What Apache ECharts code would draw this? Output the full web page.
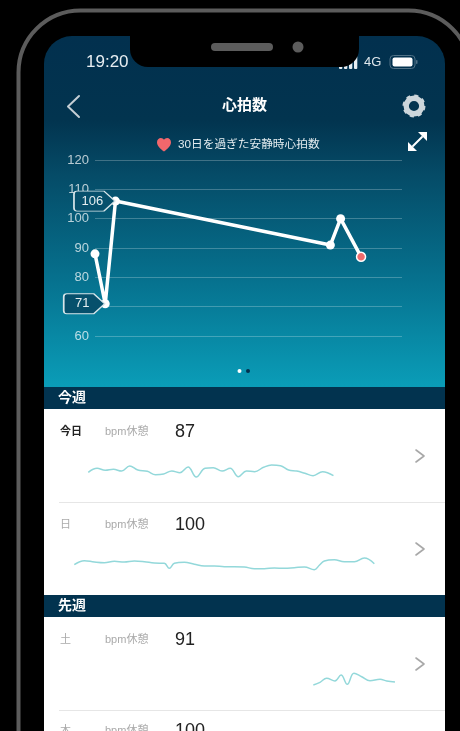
<!DOCTYPE html>
<html>
<head>
<meta charset="utf-8">
<style>
  html, body { margin: 0; padding: 0; background: #000; }
  #main { width: 460px; height: 731px; }
</style>
<script src="https://cdn.jsdelivr.net/npm/echarts@6/dist/echarts.min.js"></script>
</head>
<body>
<div id="main"></div>
<script>
// 30日間の安静時心拍数
var restDays = [0, 1, 2, 23, 24, 26];
var restValues = [88, 71, 106, 91, 100, 87];
var tagIndexes = [1, 2];

// 一覧の行
var rowLabels = ['今日', '日', '土', '木'];
var rowValues = ['87', '100', '91', '100'];
var sectionLabels = ['今週', '先週'];

// 一日の推移 (時刻, bpm)
var todayHours = [1.05, 1.7, 2.3, 2.9, 3.5, 4.1, 4.7, 5.4, 6, 6.6, 7.2, 7.8, 8.4, 9, 9.65, 10.25, 10.9, 11.5, 12.1, 12.7, 13.3, 13.95, 14.55, 15.2, 15.8, 16.4, 17, 17.6, 18.3, 19.1];
var todayBpm = [86.7, 90.7, 88.7, 89.7, 88, 93, 89, 87.7, 84.3, 85, 88, 86.3, 92, 82, 90.7, 91.3, 88, 90.7, 82.3, 88, 87.3, 91.7, 94, 93.3, 89, 88, 85.7, 83.3, 87.3, 83.3];
var sunHours = [0.02, 0.76, 1.5, 2.23, 2.97, 3.7, 4.44, 5.18, 5.91, 6.65, 7.02, 7.39, 8.12, 8.86, 9.6, 10.33, 11.07, 11.8, 12.54, 13.28, 14.01, 14.75, 15.48, 16.22, 16.96, 17.69, 18.06, 18.43, 19.17, 19.9, 20.64, 21.37, 22.11];
var sunBpm = [95.3, 99.3, 98, 97.3, 98.7, 98, 99, 98.3, 97, 96.7, 91.7, 96.7, 97.7, 95.7, 94, 94, 93.3, 93.3, 93, 91.3, 91.3, 92, 91.7, 92.3, 93, 90.3, 94.7, 99, 100.3, 98.3, 98.3, 102, 96.3];
var satHours = [17.62, 18.11, 18.6, 19.21, 19.66, 20.12, 20.61, 21.18, 21.79, 22.53, 23.02, 23.63];
var satBpm = [90, 92.7, 96.7, 94, 100, 90.7, 101.7, 98.3, 94.3, 95.7, 94, 93];

var legendName = '30日を過ぎた安静時心拍数';
var fontFamily = '"Liberation Sans", "Noto Sans CJK JP", sans-serif';
var heartPath = 'path://M7 13.5C3 10.4 0 7.8 0 4.2 0 1.7 1.8 0 3.9 0 5.2 0 6.3 .7 7 1.8 7.7 .7 8.8 0 10.1 0 12.2 0 14 1.7 14 4.2 14 7.8 11 10.4 7 13.5Z';
var tagPath = 'path://M3 0H30L41 10 30 20H3C1.3 20 0 18.7 0 17V3C0 1.3 1.3 0 3 0Z';

function zip(xs, ys) {
    return xs.map(function (x, i) { return [x, ys[i]]; });
}

function text(x, y, str, size, color, weight, align) {
    return {
        type: 'text', z: -1, x: x, y: y,
        style: {
            text: str, fontSize: size, fill: color, fontWeight: weight || 'normal',
            fontFamily: fontFamily, align: align || 'left', verticalAlign: 'middle'
        }
    };
}

function rect(x, y, w, h, fill, r) {
    return { type: 'rect', z: -1, shape: { x: x, y: y, width: w, height: h, r: r || 0 }, style: { fill: fill } };
}

function chevron(points, color, width) {
    return {
        type: 'polyline', z: -1, shape: { points: points },
        style: { stroke: color, lineWidth: width, fill: 'none', lineCap: 'round', lineJoin: 'round' }
    };
}

// 端末と画面の部品
var chrome = [
    { type: 'rect', z: -1, shape: { x: 18.5, y: 10.5, width: 452, height: 900, r: 62 }, style: { fill: '#000', stroke: '#5c5c5c', lineWidth: 4 } },
    {
        type: 'rect', z: -1, shape: { x: 44, y: 36, width: 401, height: 351, r: [28, 28, 0, 0] },
        style: {
            fill: new echarts.graphic.LinearGradient(0, 0, 0, 1, [
                { offset: 0, color: '#02304e' },
                { offset: 0.24, color: '#02344f' },
                { offset: 0.4, color: '#054c68' },
                { offset: 0.7, color: '#06728f' },
                { offset: 1, color: '#0a9db8' }
            ])
        }
    }
];

// 電波
[[339, 66], [344, 63], [349, 60], [354, 56]].forEach(function (b) {
    chrome.push(rect(b[0], b[1], 3.3, 69 - b[1], '#e8eef2', 1));
});

chrome.push(
    rect(130, 30, 229, 37, '#000', [0, 0, 18, 18]),
    rect(211, 43, 62, 8, '#5c5c5c', 4),
    { type: 'circle', z: -1, shape: { cx: 298, cy: 47, r: 5.5 }, style: { fill: '#5c5c5c' } },
    text(86, 62, '19:20', 17, '#e8eef2', '500'),
    text(364, 62, '4G', 13, '#dfe7ec'),
    { type: 'rect', z: -1, shape: { x: 390, y: 55.5, width: 25, height: 13, r: 3.5 }, style: { fill: 'none', stroke: '#4f7186', lineWidth: 1 } },
    rect(392.5, 57.5, 20, 9, '#fff', 2),
    rect(416, 60, 1.5, 4, '#4f7186', 1),
    chevron([[79, 96], [68, 106.5], [79, 117]], '#c4ced4', 2),
    text(244.5, 106, '心拍数', 15, '#fff', 'bold', 'center'),
    // 歯車
    { type: 'circle', z: -1, shape: { cx: 414, cy: 106, r: 7.8 }, style: { fill: 'none', stroke: '#cdd6db', lineWidth: 5.4 } },
    { type: 'circle', z: -1, shape: { cx: 414, cy: 106, r: 10.2 }, style: { fill: 'none', stroke: '#cdd6db', lineWidth: 2.6, lineDash: [4, 4] } },
    // 拡大
    chevron([[413, 146], [422, 137]], '#fff', 2),
    { type: 'polygon', z: -1, shape: { points: [[418, 132], [427, 132], [427, 141]] }, style: { fill: '#fff' } },
    { type: 'polygon', z: -1, shape: { points: [[408, 142], [408, 151], [417, 151]] }, style: { fill: '#fff' } },
    // ページ
    { type: 'circle', z: -1, shape: { cx: 239.5, cy: 371, r: 2 }, style: { fill: '#fff' } },
    { type: 'circle', z: -1, shape: { cx: 248, cy: 371, r: 2 }, style: { fill: '#03304d' } },
    // 一覧
    rect(44, 409, 401, 330, '#fff'),
    rect(44, 387, 401, 22, '#02334f'),
    rect(44, 595, 401, 22, '#02334f'),
    rect(59, 502, 386, 1, '#e6e6e6'),
    rect(59, 710, 386, 1, '#e6e6e6'),
    text(58, 398, sectionLabels[0], 14, '#fff', 'bold'),
    text(58, 606, sectionLabels[1], 14, '#fff', 'bold')
);

var rowTextY = [432, 525, 640, 731];
rowLabels.forEach(function (label, i) {
    var y = rowTextY[i];
    chrome.push(
        text(60, y, label, 11, i === 0 ? '#222' : '#aaa', i === 0 ? 'bold' : 'normal'),
        text(105, y, 'bpm休憩', 11, '#aaa'),
        text(175, y, rowValues[i], 18, '#222')
    );
});

[456, 549, 664].forEach(function (y) {
    chrome.push(chevron([[416, y - 6], [424, y], [416, y + 6]], '#a8a8a8', 1.6));
});

function sparkSeries(gridIndex, data) {
    return {
        type: 'line', xAxisIndex: gridIndex, yAxisIndex: gridIndex, data: data,
        smooth: 0.4, showSymbol: false, silent: true, z: 2,
        lineStyle: { color: '#93d8da', width: 1.5 }
    };
}

function hiddenX(gridIndex) {
    return { type: 'value', gridIndex: gridIndex, min: 0, max: 24, show: false };
}

function hiddenY(gridIndex, min, max) {
    return { type: 'value', gridIndex: gridIndex, min: min, max: max, show: false };
}

var chart = echarts.init(document.getElementById('main'));

chart.setOption({
    animation: false,
    backgroundColor: '#000',
    textStyle: { fontFamily: fontFamily },
    graphic: { elements: chrome },
    legend: {
        left: 152, top: 133, itemWidth: 14, itemHeight: 14,
        data: [{ name: legendName, icon: heartPath, itemStyle: { color: '#f2676c' } }],
        textStyle: { color: '#e4ecef', fontSize: 11.7, padding: [0, 0, 0, 2] }
    },
    grid: [
        { left: 95, top: 160, width: 307, height: 176 },
        { left: 74, top: 459, width: 326, height: 25 },
        { left: 74, top: 555, width: 326, height: 20 },
        { left: 74, top: 670, width: 326, height: 20 }
    ],
    xAxis: [
        { type: 'value', gridIndex: 0, min: 0, max: 30, show: false },
        hiddenX(1), hiddenX(2), hiddenX(3)
    ],
    yAxis: [
        {
            type: 'value', gridIndex: 0, min: 60, max: 120, interval: 10,
            axisLine: { show: false }, axisTick: { show: false },
            axisLabel: { color: 'rgba(255,255,255,0.72)', fontSize: 13, margin: 6 },
            splitLine: { lineStyle: { color: 'rgba(255,255,255,0.24)', width: 1 } }
        },
        hiddenY(1, 75, 100), hiddenY(2, 85, 105), hiddenY(3, 85, 105)
    ],
    series: [
        {
            name: legendName, type: 'line', xAxisIndex: 0, yAxisIndex: 0, z: 3,
            data: restDays.map(function (d, i) {
                var last = i === restDays.length - 1;
                return {
                    value: [d, restValues[i]],
                    symbolSize: last ? 9 : 9,
                    itemStyle: last ? { color: '#ef6b6c', borderColor: '#fff', borderWidth: 1.5 } : { color: '#fff' }
                };
            }),
            symbol: 'circle', showAllSymbol: true, clip: false,
            lineStyle: { color: '#fff', width: 3.5 },
            markPoint: {
                silent: true, z: 4,
                symbol: tagPath, symbolSize: [41, 20], symbolOffset: [-21, 0],
                symbolKeepAspect: false,
                itemStyle: { color: '#06506c', borderColor: '#d8e6ea', borderWidth: 1.2 },
                label: { show: true, position: 'inside', color: '#e6eef0', fontSize: 13, offset: [-2, 0] },
                data: tagIndexes.map(function (i) {
                    return { coord: [restDays[i], restValues[i]], value: restValues[i] };
                })
            }
        },
        sparkSeries(1, zip(todayHours, todayBpm)),
        sparkSeries(2, zip(sunHours, sunBpm)),
        sparkSeries(3, zip(satHours, satBpm))
    ]
});
</script>
</body>
</html>
